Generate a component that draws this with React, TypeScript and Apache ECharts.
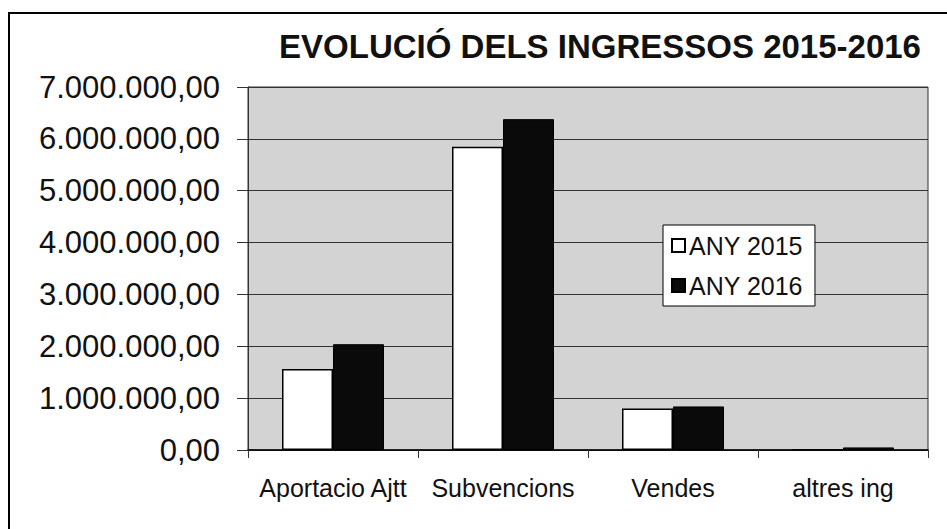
import React, { useEffect, useRef } from "react";
import * as echarts from "echarts";

const categories = ["Aportacio Ajtt", "Subvencions", "Vendes", "altres ing"];
const values2015 = [1560000, 5850000, 800000, 0];
const values2016 = [2040000, 6380000, 840000, 50000];
const seriesNames = ["ANY 2015", "ANY 2016"];
const titleText = "EVOLUCIÓ DELS INGRESSOS 2015-2016";

function fmt(v: number): string {
  const s = Math.round(v).toString().replace(/\B(?=(\d{3})+(?!\d))/g, ".");
  return s + ",00";
}

export default function App() {
  const ref = useRef<HTMLDivElement>(null);
  useEffect(() => {
    document.body.style.margin = "0";
    const chart = echarts.init(ref.current!, null, { renderer: "svg" });
    const font = "'Liberation Sans', Arial, sans-serif";
    chart.setOption({
      animation: false,
      backgroundColor: "#ffffff",
      title: {
        text: titleText,
        left: 595,
        top: 25,
        textAlign: "center",
        textStyle: { fontFamily: font, fontSize: 33, fontWeight: "bold", color: "#111" },
      },
      legend: {
        orient: "vertical",
        left: 663,
        top: 225,
        padding: [8, 12, 8, 8],
        itemWidth: 13,
        itemHeight: 13,
        itemGap: 15,
        backgroundColor: "#ffffff",
        borderColor: "#000",
        borderWidth: 1,
        icon: "rect",
        textStyle: { fontFamily: font, fontSize: 25, color: "#111", padding: [0, 0, 0, -1] },
        data: seriesNames,
      },
      grid: {
        left: 248,
        right: 19,
        top: 87,
        bottom: 79,
        show: true,
        backgroundColor: "#d3d3d3",
        borderColor: "#333",
        borderWidth: 1,
      },
      xAxis: {
        type: "category",
        data: categories,
        axisLine: { lineStyle: { color: "#000", width: 1.5 } },
        axisTick: { show: true, length: 8, lineStyle: { color: "#333" } },
        axisLabel: {
          fontFamily: font,
          fontSize: 25,
          color: "#111",
          margin: 25,
          interval: 0,
          hideOverlap: false,
        },
      },
      yAxis: {
        type: "value",
        min: 0,
        max: 7000000,
        interval: 1000000,
        axisLine: { show: true, lineStyle: { color: "#333" } },
        axisTick: { show: true, length: 11, lineStyle: { color: "#333" } },
        splitLine: { lineStyle: { color: "#333", width: 1 } },
        axisLabel: { fontFamily: font, fontSize: 31, color: "#111", margin: 28, formatter: (v: number) => fmt(v) },
      },
      series: [
        {
          name: seriesNames[0],
          type: "bar",
          data: values2015,
          barWidth: "30%",
          barGap: "0%",
          itemStyle: { color: "#ffffff", borderColor: "#000", borderWidth: 1.5 },
        },
        {
          name: seriesNames[1],
          type: "bar",
          data: values2016,
          barWidth: "30%",
          barGap: "0%",
          itemStyle: { color: "#0a0a0a", borderColor: "#000", borderWidth: 1 },
        },
      ],
      graphic: [
        {
          type: "rect",
          shape: { x: 9, y: 13, width: 1000, height: 600 },
          style: { fill: "none", stroke: "#000", lineWidth: 2 },
          silent: true,
        },
      ],
    });
    return () => chart.dispose();
  }, []);
  return <div ref={ref} style={{ width: 947, height: 529 }} />;
}
